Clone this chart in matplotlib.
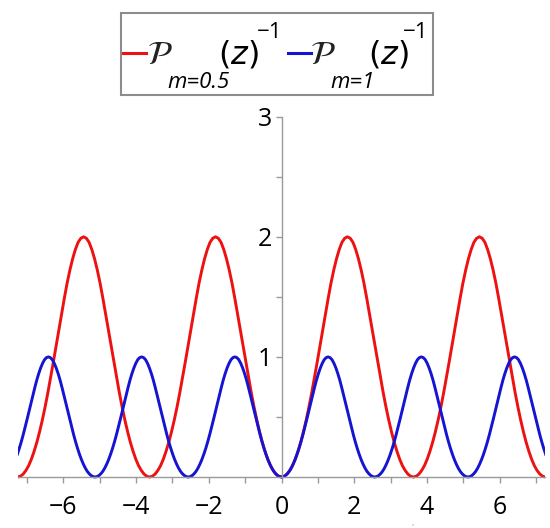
import numpy as np
import matplotlib
matplotlib.use("Agg")
import matplotlib.pyplot as plt
from matplotlib.lines import Line2D
from matplotlib.patches import Rectangle

# values, one sample every ~0.053 (blue) / ~0.076 (red)
blue_x = np.linspace(-7.268, 7.268, 273)
blue_y = [
    0.189, 0.238, 0.292, 0.351,
    0.414, 0.479, 0.546, 0.613, 0.679, 0.745, 0.807, 0.861, 0.908, 0.947, 0.977, 0.994,
    1.0, 0.994, 0.977, 0.947, 0.908, 0.861, 0.807, 0.745, 0.679, 0.613, 0.546, 0.479,
    0.414, 0.351, 0.292, 0.238, 0.189, 0.145, 0.107, 0.074, 0.047, 0.027, 0.012, 0.003,
    # -5.13
    0.0, 0.003, 0.012, 0.027, 0.047, 0.074, 0.107, 0.145, 0.189, 0.238, 0.292, 0.351,
    0.414, 0.479, 0.546, 0.613, 0.679, 0.745, 0.807, 0.861, 0.908, 0.947, 0.977, 0.994,
    1.0, 0.994, 0.977, 0.947, 0.908, 0.861, 0.807, 0.745, 0.679, 0.613, 0.546, 0.479,
    0.414, 0.351, 0.292, 0.238, 0.189, 0.145, 0.107, 0.074, 0.047, 0.027, 0.012, 0.003,
    # -2.57
    0.0, 0.003, 0.012, 0.027, 0.047, 0.074, 0.107, 0.145, 0.189, 0.238, 0.292, 0.351,
    0.414, 0.479, 0.546, 0.613, 0.679, 0.745, 0.807, 0.861, 0.908, 0.947, 0.977, 0.994,
    1.0, 0.994, 0.977, 0.947, 0.908, 0.861, 0.807, 0.745, 0.679, 0.613, 0.546, 0.479,
    0.414, 0.351, 0.292, 0.238, 0.189, 0.145, 0.107, 0.074, 0.047, 0.027, 0.012, 0.003,
    # 0
    0.0, 0.003, 0.012, 0.027, 0.047, 0.074, 0.107, 0.145, 0.189, 0.238, 0.292, 0.351,
    0.414, 0.479, 0.546, 0.613, 0.679, 0.745, 0.807, 0.861, 0.908, 0.947, 0.977, 0.994,
    1.0, 0.994, 0.977, 0.947, 0.908, 0.861, 0.807, 0.745, 0.679, 0.613, 0.546, 0.479,
    0.414, 0.351, 0.292, 0.238, 0.189, 0.145, 0.107, 0.074, 0.047, 0.027, 0.012, 0.003,
    # 2.57
    0.0, 0.003, 0.012, 0.027, 0.047, 0.074, 0.107, 0.145, 0.189, 0.238, 0.292, 0.351,
    0.414, 0.479, 0.546, 0.613, 0.679, 0.745, 0.807, 0.861, 0.908, 0.947, 0.977, 0.994,
    1.0, 0.994, 0.977, 0.947, 0.908, 0.861, 0.807, 0.745, 0.679, 0.613, 0.546, 0.479,
    0.414, 0.351, 0.292, 0.238, 0.189, 0.145, 0.107, 0.074, 0.047, 0.027, 0.012, 0.003,
    # 5.13
    0.0, 0.003, 0.012, 0.027, 0.047, 0.074, 0.107, 0.145, 0.189, 0.238, 0.292, 0.351,
    0.414, 0.479, 0.546, 0.613, 0.679, 0.745, 0.807, 0.861, 0.908, 0.947, 0.977, 0.994,
    1.0, 0.994, 0.977, 0.947, 0.908, 0.861, 0.807, 0.745, 0.679, 0.613, 0.546, 0.479,
    0.414, 0.351, 0.292, 0.238, 0.189,
]

red_x = np.linspace(-7.26, 7.26, 193)
red_y = [
    # -7.26
    0.0, 0.006, 0.024, 0.054, 0.094, 0.148, 0.214, 0.290, 0.378, 0.476, 0.584, 0.702,
    0.828, 0.958, 1.092, 1.226, 1.358, 1.490, 1.614, 1.722, 1.816, 1.894, 1.954, 1.988,
    2.0, 1.988, 1.954, 1.894, 1.816, 1.722, 1.614, 1.490, 1.358, 1.226, 1.092, 0.958,
    0.828, 0.702, 0.584, 0.476, 0.378, 0.290, 0.214, 0.148, 0.094, 0.054, 0.024, 0.006,
    # -3.63
    0.0, 0.006, 0.024, 0.054, 0.094, 0.148, 0.214, 0.290, 0.378, 0.476, 0.584, 0.702,
    0.828, 0.958, 1.092, 1.226, 1.358, 1.490, 1.614, 1.722, 1.816, 1.894, 1.954, 1.988,
    2.0, 1.988, 1.954, 1.894, 1.816, 1.722, 1.614, 1.490, 1.358, 1.226, 1.092, 0.958,
    0.828, 0.702, 0.584, 0.476, 0.378, 0.290, 0.214, 0.148, 0.094, 0.054, 0.024, 0.006,
    # 0
    0.0, 0.006, 0.024, 0.054, 0.094, 0.148, 0.214, 0.290, 0.378, 0.476, 0.584, 0.702,
    0.828, 0.958, 1.092, 1.226, 1.358, 1.490, 1.614, 1.722, 1.816, 1.894, 1.954, 1.988,
    2.0, 1.988, 1.954, 1.894, 1.816, 1.722, 1.614, 1.490, 1.358, 1.226, 1.092, 0.958,
    0.828, 0.702, 0.584, 0.476, 0.378, 0.290, 0.214, 0.148, 0.094, 0.054, 0.024, 0.006,
    # 3.63
    0.0, 0.006, 0.024, 0.054, 0.094, 0.148, 0.214, 0.290, 0.378, 0.476, 0.584, 0.702,
    0.828, 0.958, 1.092, 1.226, 1.358, 1.490, 1.614, 1.722, 1.816, 1.894, 1.954, 1.988,
    2.0, 1.988, 1.954, 1.894, 1.816, 1.722, 1.614, 1.490, 1.358, 1.226, 1.092, 0.958,
    0.828, 0.702, 0.584, 0.476, 0.378, 0.290, 0.214, 0.148, 0.094, 0.054, 0.024, 0.006,
    # 7.26
    0.0,
]

x_major = [-6, -4, -2, 0, 2, 4, 6]
x_minor = [-7, -5, -3, -1, 1, 3, 5, 7]
y_major = [1, 2, 3]
y_minor = [0.5, 1.5, 2.5]

RED = '#ee1111'
BLUE = '#1414d2'
GREY = '#9a9a9a'

W, H = 550, 528
fig = plt.figure(figsize=(W / 100, H / 100), dpi=100)


def fx(px):
    return px / W


def fy(py):
    return 1 - py / H


# axes: x -7.25..7.25 over px 18..545, y=0 at px 477, y=3 at px 117
ax = fig.add_axes([fx(18), fy(489), (545 - 18) / W, (489 - 110.7) / H])
ax.set_xlim(-7.25, 7.25)
ax.set_ylim(-0.1, 3.05)

ax.plot(red_x, red_y, color=RED, lw=2.1)
ax.plot(blue_x, blue_y, color=BLUE, lw=2.1)

for s in ['top', 'right']:
    ax.spines[s].set_visible(False)
ax.spines['left'].set_position(('data', 0))
ax.spines['bottom'].set_position(('data', 0))
ax.spines['left'].set_bounds(0, 3)
for s in ['left', 'bottom']:
    ax.spines[s].set_color(GREY)
    ax.spines[s].set_linewidth(1.0)

ax.set_xticks(x_major)
ax.set_xticks(x_minor, minor=True)
ax.set_yticks(y_major)
ax.set_yticks(y_minor, minor=True)
ax.set_xticklabels(['\u22126', '\u22124', '\u22122', '0', '2', '4', '6'])
ax.set_yticklabels(['1', '2', '3'])
ax.tick_params(which='both', direction='out', length=4, width=1.0, color=GREY)
ax.tick_params(axis='x', which='major', pad=9, labelsize=18)
ax.tick_params(axis='y', which='major', pad=3, labelsize=18)
for lab in ax.get_xticklabels() + ax.get_yticklabels():
    lab.set_fontfamily('Open Sans')

# legend box drawn Maple-style
fig.add_artist(Rectangle((fx(121), fy(95)), (433 - 121) / W, (95 - 13) / H,
                         transform=fig.transFigure, facecolor='white',
                         edgecolor='#8c8c8c', lw=1.5))
fig.add_artist(Line2D([fx(123), fx(146)], [fy(53), fy(53)], color=RED, lw=2.2))
fig.add_artist(Line2D([fx(288), fx(311)], [fy(53), fy(53)], color=BLUE, lw=2.2))

for p, sub, zx, ex in [(160, 'm=0.5', 238, 270), (323, 'm=1', 388, 416)]:
    fig.text(fx(p), fy(55), r'$\mathcal{P}$', math_fontfamily='stix',
             fontsize=24, ha='center', va='center', color='#222222')
    fig.text(fx(p + 7), fy(83), sub, fontsize=16, style='italic',
             family='Open Sans', ha='left', va='center')
    fig.text(fx(zx), fy(55), r'$(z)$', math_fontfamily='dejavusans',
             fontsize=23, ha='center', va='center')
    fig.text(fx(ex), fy(32), '\u22121', fontsize=16, family='Open Sans',
             ha='center', va='center')

fig.text(fx(413), fy(525), 'z', fontsize=3, color='#aaaaaa', ha='center', va='center')

fig.savefig('out.png', dpi=100)
